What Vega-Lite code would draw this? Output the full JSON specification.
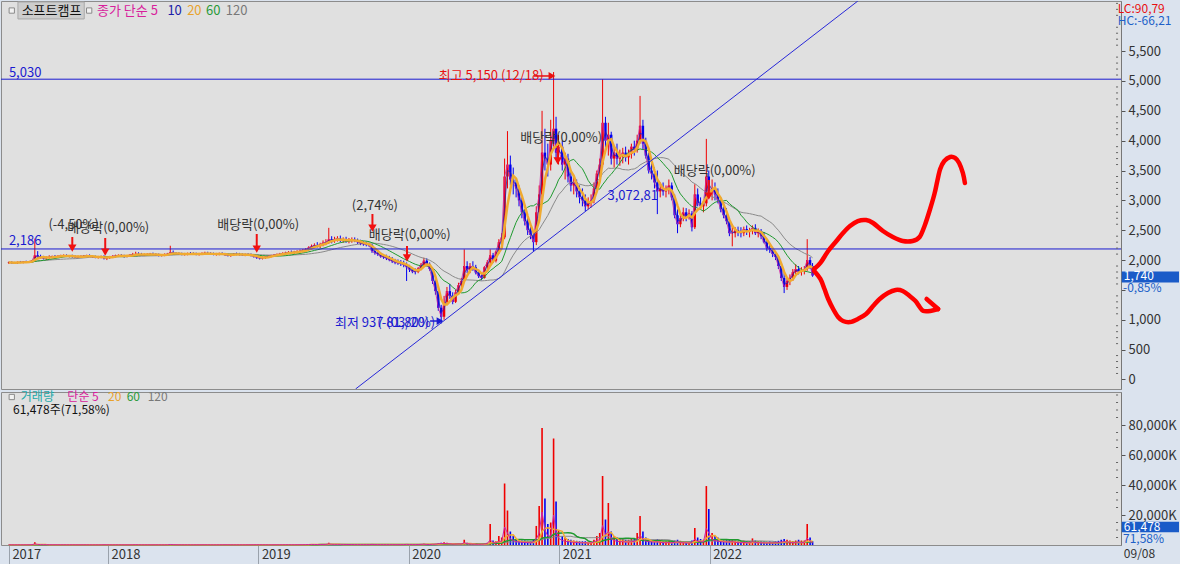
{
"$schema":"https://vega.github.io/schema/vega-lite/v6.json",
"padding":0,
"background":"#dbe3ee",
"spacing":0,
"resolve":{"scale":{"color":"independent"}},
"config":{
 "view":{"stroke":"#8c8c8c","fill":"#e0e0e0"},
 "font":"Liberation Sans Narrow, Noto Sans CJK KR, sans-serif",
 "text":{"font":"Liberation Sans Narrow, Noto Sans CJK KR, sans-serif","fontSize":13,"align":"left","baseline":"middle"},
 "axisY":{"labelOverlap":false}
},
"data":{"values":[
{"d":"2017-05-05","o":1950,"h":1975,"l":1935,"c":1960,"v":150,"a":150},
{"d":"2017-05-12","o":1960,"h":1980,"l":1940,"c":1955,"v":120,"a":120},
{"d":"2017-05-19","o":1955,"h":1970,"l":1940,"c":1950,"v":110,"a":110},
{"d":"2017-05-26","o":1950,"h":1975,"l":1940,"c":1965,"v":130,"a":130},
{"d":"2017-06-02","o":1965,"h":1985,"l":1950,"c":1960,"v":120,"a":120},
{"d":"2017-06-09","o":1960,"h":1980,"l":1945,"c":1970,"v":140,"a":140},
{"d":"2017-06-16","o":1970,"h":1990,"l":1955,"c":1965,"v":120,"a":120},
{"d":"2017-06-23","o":1965,"h":1985,"l":1950,"c":1975,"v":150,"a":150},
{"d":"2017-06-30","o":1975,"h":2000,"l":1960,"c":1990,"v":200,"a":200},
{"d":"2017-07-07","o":1990,"h":2360,"l":1980,"c":2080,"v":1800,"a":700},
{"d":"2017-07-14","o":2080,"h":2150,"l":2030,"c":2060,"v":600,"a":400},
{"d":"2017-07-21","o":2060,"h":2090,"l":2020,"c":2040,"v":300,"a":250},
{"d":"2017-07-28","o":2040,"h":2070,"l":2010,"c":2030,"v":250,"a":200},
{"d":"2017-08-04","o":2030,"h":2060,"l":2000,"c":2045,"v":200,"a":180},
{"d":"2017-08-11","o":2045,"h":2080,"l":2020,"c":2050,"v":200,"a":180},
{"d":"2017-08-18","o":2050,"h":2075,"l":2030,"c":2060,"v":180,"a":160},
{"d":"2017-08-25","o":2060,"h":2085,"l":2035,"c":2055,"v":170,"a":150},
{"d":"2017-09-01","o":2055,"h":2080,"l":2035,"c":2065,"v":180,"a":160},
{"d":"2017-09-08","o":2065,"h":2090,"l":2045,"c":2070,"v":170,"a":150},
{"d":"2017-09-15","o":2070,"h":2095,"l":2050,"c":2075,"v":180,"a":160},
{"d":"2017-09-22","o":2075,"h":2095,"l":2050,"c":2065,"v":160,"a":140},
{"d":"2017-09-29","o":2065,"h":2085,"l":2045,"c":2070,"v":150,"a":130},
{"d":"2017-10-06","o":2070,"h":2090,"l":2040,"c":2060,"v":170,"a":150},
{"d":"2017-10-13","o":2060,"h":2080,"l":2035,"c":2050,"v":150,"a":130},
{"d":"2017-10-20","o":2050,"h":2075,"l":2030,"c":2055,"v":140,"a":120},
{"d":"2017-10-27","o":2055,"h":2080,"l":2035,"c":2060,"v":150,"a":130},
{"d":"2017-11-03","o":2060,"h":2085,"l":2040,"c":2065,"v":160,"a":140},
{"d":"2017-11-10","o":2065,"h":2090,"l":2045,"c":2070,"v":150,"a":130},
{"d":"2017-11-17","o":2070,"h":2095,"l":2050,"c":2060,"v":140,"a":120},
{"d":"2017-11-24","o":2060,"h":2080,"l":2040,"c":2055,"v":130,"a":110},
{"d":"2017-12-01","o":2055,"h":2075,"l":2030,"c":2045,"v":140,"a":120},
{"d":"2017-12-08","o":2045,"h":2070,"l":2025,"c":2050,"v":130,"a":110},
{"d":"2017-12-15","o":2050,"h":2075,"l":2030,"c":2060,"v":150,"a":130},
{"d":"2017-12-22","o":2060,"h":2080,"l":2010,"c":2030,"v":200,"a":170},
{"d":"2017-12-29","o":2030,"h":2055,"l":2000,"c":2040,"v":160,"a":140},
{"d":"2018-01-05","o":2040,"h":2070,"l":2020,"c":2055,"v":150,"a":130},
{"d":"2018-01-12","o":2055,"h":2080,"l":2035,"c":2065,"v":140,"a":120},
{"d":"2018-01-19","o":2065,"h":2090,"l":2045,"c":2070,"v":150,"a":130},
{"d":"2018-01-26","o":2070,"h":2095,"l":2050,"c":2080,"v":160,"a":140},
{"d":"2018-02-02","o":2080,"h":2100,"l":2055,"c":2070,"v":150,"a":130},
{"d":"2018-02-09","o":2070,"h":2090,"l":2040,"c":2060,"v":140,"a":120},
{"d":"2018-02-16","o":2060,"h":2085,"l":2045,"c":2075,"v":130,"a":110},
{"d":"2018-02-23","o":2075,"h":2100,"l":2060,"c":2085,"v":140,"a":120},
{"d":"2018-03-02","o":2085,"h":2120,"l":2065,"c":2090,"v":200,"a":160},
{"d":"2018-03-09","o":2090,"h":2140,"l":2070,"c":2100,"v":250,"a":200},
{"d":"2018-03-16","o":2100,"h":2130,"l":2080,"c":2095,"v":200,"a":160},
{"d":"2018-03-23","o":2095,"h":2120,"l":2070,"c":2085,"v":160,"a":140},
{"d":"2018-03-30","o":2085,"h":2110,"l":2065,"c":2090,"v":150,"a":130},
{"d":"2018-04-06","o":2090,"h":2115,"l":2070,"c":2095,"v":160,"a":140},
{"d":"2018-04-13","o":2095,"h":2120,"l":2075,"c":2100,"v":150,"a":130},
{"d":"2018-04-20","o":2100,"h":2125,"l":2080,"c":2090,"v":140,"a":120},
{"d":"2018-04-27","o":2090,"h":2115,"l":2070,"c":2085,"v":150,"a":130},
{"d":"2018-05-04","o":2085,"h":2110,"l":2060,"c":2080,"v":160,"a":140},
{"d":"2018-05-11","o":2080,"h":2100,"l":2060,"c":2085,"v":150,"a":130},
{"d":"2018-05-18","o":2085,"h":2110,"l":2065,"c":2095,"v":150,"a":130},
{"d":"2018-05-25","o":2095,"h":2120,"l":2075,"c":2100,"v":160,"a":140},
{"d":"2018-06-01","o":2100,"h":2240,"l":2085,"c":2130,"v":600,"a":350},
{"d":"2018-06-08","o":2130,"h":2160,"l":2090,"c":2110,"v":300,"a":220},
{"d":"2018-06-15","o":2110,"h":2135,"l":2090,"c":2105,"v":200,"a":170},
{"d":"2018-06-22","o":2105,"h":2130,"l":2085,"c":2100,"v":180,"a":150},
{"d":"2018-06-29","o":2100,"h":2125,"l":2080,"c":2095,"v":170,"a":150},
{"d":"2018-07-06","o":2095,"h":2120,"l":2075,"c":2100,"v":160,"a":140},
{"d":"2018-07-13","o":2100,"h":2125,"l":2080,"c":2110,"v":170,"a":150},
{"d":"2018-07-20","o":2110,"h":2135,"l":2090,"c":2105,"v":160,"a":140},
{"d":"2018-07-27","o":2105,"h":2130,"l":2085,"c":2100,"v":150,"a":130},
{"d":"2018-08-03","o":2100,"h":2125,"l":2080,"c":2095,"v":160,"a":140},
{"d":"2018-08-10","o":2095,"h":2120,"l":2075,"c":2105,"v":150,"a":130},
{"d":"2018-08-17","o":2105,"h":2130,"l":2085,"c":2110,"v":170,"a":150},
{"d":"2018-08-24","o":2110,"h":2140,"l":2090,"c":2115,"v":180,"a":160},
{"d":"2018-08-31","o":2115,"h":2140,"l":2095,"c":2105,"v":170,"a":150},
{"d":"2018-09-07","o":2105,"h":2130,"l":2085,"c":2100,"v":160,"a":140},
{"d":"2018-09-14","o":2100,"h":2125,"l":2080,"c":2095,"v":150,"a":130},
{"d":"2018-09-21","o":2095,"h":2120,"l":2075,"c":2100,"v":150,"a":130},
{"d":"2018-09-28","o":2100,"h":2125,"l":2080,"c":2105,"v":160,"a":140},
{"d":"2018-10-05","o":2105,"h":2130,"l":2085,"c":2100,"v":170,"a":150},
{"d":"2018-10-12","o":2100,"h":2120,"l":2070,"c":2085,"v":180,"a":160},
{"d":"2018-10-19","o":2085,"h":2110,"l":2060,"c":2080,"v":170,"a":150},
{"d":"2018-10-26","o":2080,"h":2105,"l":2055,"c":2090,"v":160,"a":140},
{"d":"2018-11-02","o":2090,"h":2115,"l":2070,"c":2100,"v":150,"a":130},
{"d":"2018-11-09","o":2100,"h":2125,"l":2080,"c":2095,"v":150,"a":130},
{"d":"2018-11-16","o":2095,"h":2120,"l":2075,"c":2090,"v":140,"a":120},
{"d":"2018-11-23","o":2090,"h":2115,"l":2070,"c":2085,"v":150,"a":130},
{"d":"2018-11-30","o":2085,"h":2110,"l":2065,"c":2090,"v":150,"a":130},
{"d":"2018-12-07","o":2090,"h":2115,"l":2070,"c":2085,"v":160,"a":140},
{"d":"2018-12-14","o":2085,"h":2110,"l":2060,"c":2075,"v":170,"a":150},
{"d":"2018-12-21","o":2075,"h":2100,"l":2040,"c":2060,"v":200,"a":170},
{"d":"2018-12-28","o":2060,"h":2085,"l":2020,"c":2045,"v":220,"a":180},
{"d":"2019-01-04","o":2045,"h":2070,"l":2010,"c":2030,"v":200,"a":170},
{"d":"2019-01-11","o":2030,"h":2060,"l":2010,"c":2040,"v":180,"a":160},
{"d":"2019-01-18","o":2040,"h":2070,"l":2020,"c":2055,"v":170,"a":150},
{"d":"2019-01-25","o":2055,"h":2080,"l":2035,"c":2065,"v":160,"a":140},
{"d":"2019-02-01","o":2065,"h":2090,"l":2045,"c":2075,"v":160,"a":140},
{"d":"2019-02-08","o":2075,"h":2100,"l":2055,"c":2085,"v":170,"a":150},
{"d":"2019-02-15","o":2085,"h":2110,"l":2065,"c":2095,"v":170,"a":150},
{"d":"2019-02-22","o":2095,"h":2120,"l":2075,"c":2100,"v":180,"a":160},
{"d":"2019-03-01","o":2100,"h":2130,"l":2080,"c":2110,"v":200,"a":170},
{"d":"2019-03-08","o":2110,"h":2140,"l":2090,"c":2120,"v":220,"a":190},
{"d":"2019-03-15","o":2120,"h":2150,"l":2100,"c":2130,"v":230,"a":200},
{"d":"2019-03-22","o":2130,"h":2160,"l":2105,"c":2125,"v":210,"a":180},
{"d":"2019-03-29","o":2125,"h":2155,"l":2100,"c":2135,"v":200,"a":170},
{"d":"2019-04-05","o":2135,"h":2165,"l":2110,"c":2140,"v":220,"a":190},
{"d":"2019-04-12","o":2140,"h":2175,"l":2115,"c":2150,"v":240,"a":200},
{"d":"2019-04-19","o":2150,"h":2185,"l":2125,"c":2160,"v":260,"a":220},
{"d":"2019-04-26","o":2160,"h":2200,"l":2135,"c":2175,"v":300,"a":250},
{"d":"2019-05-03","o":2175,"h":2230,"l":2150,"c":2210,"v":400,"a":320},
{"d":"2019-05-10","o":2210,"h":2260,"l":2180,"c":2230,"v":450,"a":350},
{"d":"2019-05-17","o":2230,"h":2280,"l":2200,"c":2250,"v":420,"a":340},
{"d":"2019-05-24","o":2250,"h":2300,"l":2210,"c":2240,"v":380,"a":300},
{"d":"2019-05-31","o":2240,"h":2290,"l":2200,"c":2260,"v":400,"a":320},
{"d":"2019-06-07","o":2260,"h":2330,"l":2230,"c":2290,"v":500,"a":380},
{"d":"2019-06-14","o":2290,"h":2350,"l":2250,"c":2300,"v":520,"a":400},
{"d":"2019-06-21","o":2300,"h":2540,"l":2270,"c":2350,"v":1500,"a":700},
{"d":"2019-06-28","o":2350,"h":2400,"l":2280,"c":2320,"v":700,"a":450},
{"d":"2019-07-05","o":2320,"h":2390,"l":2290,"c":2350,"v":600,"a":420},
{"d":"2019-07-12","o":2350,"h":2400,"l":2310,"c":2360,"v":600,"a":420},
{"d":"2019-07-19","o":2360,"h":2410,"l":2300,"c":2330,"v":550,"a":400},
{"d":"2019-07-26","o":2330,"h":2380,"l":2290,"c":2340,"v":500,"a":380},
{"d":"2019-08-02","o":2340,"h":2390,"l":2290,"c":2320,"v":450,"a":350},
{"d":"2019-08-09","o":2320,"h":2370,"l":2280,"c":2330,"v":420,"a":330},
{"d":"2019-08-16","o":2330,"h":2380,"l":2290,"c":2340,"v":400,"a":320},
{"d":"2019-08-23","o":2340,"h":2380,"l":2300,"c":2320,"v":380,"a":300},
{"d":"2019-08-30","o":2320,"h":2360,"l":2270,"c":2300,"v":360,"a":290},
{"d":"2019-09-06","o":2300,"h":2340,"l":2250,"c":2280,"v":350,"a":280},
{"d":"2019-09-13","o":2280,"h":2320,"l":2240,"c":2270,"v":330,"a":270},
{"d":"2019-09-20","o":2270,"h":2310,"l":2230,"c":2260,"v":320,"a":260},
{"d":"2019-09-27","o":2260,"h":2290,"l":2220,"c":2250,"v":300,"a":250},
{"d":"2019-10-04","o":2250,"h":2270,"l":2120,"c":2150,"v":600,"a":400},
{"d":"2019-10-11","o":2150,"h":2180,"l":2090,"c":2120,"v":400,"a":300},
{"d":"2019-10-18","o":2120,"h":2160,"l":2070,"c":2100,"v":350,"a":280},
{"d":"2019-10-25","o":2100,"h":2130,"l":2040,"c":2060,"v":330,"a":270},
{"d":"2019-11-01","o":2060,"h":2100,"l":2020,"c":2050,"v":320,"a":260},
{"d":"2019-11-08","o":2050,"h":2090,"l":2000,"c":2030,"v":300,"a":250},
{"d":"2019-11-15","o":2030,"h":2070,"l":1980,"c":2000,"v":300,"a":250},
{"d":"2019-11-22","o":2000,"h":2050,"l":1950,"c":1980,"v":320,"a":260},
{"d":"2019-11-29","o":1980,"h":2020,"l":1930,"c":1960,"v":310,"a":250},
{"d":"2019-12-06","o":1960,"h":2010,"l":1920,"c":1950,"v":300,"a":250},
{"d":"2019-12-13","o":1950,"h":2000,"l":1900,"c":1940,"v":320,"a":260},
{"d":"2019-12-20","o":1940,"h":1990,"l":1880,"c":1920,"v":350,"a":280},
{"d":"2019-12-27","o":1920,"h":1960,"l":1650,"c":1880,"v":600,"a":400},
{"d":"2020-01-03","o":1880,"h":1920,"l":1800,"c":1840,"v":400,"a":320},
{"d":"2020-01-10","o":1840,"h":1880,"l":1780,"c":1810,"v":350,"a":280},
{"d":"2020-01-17","o":1810,"h":1860,"l":1760,"c":1800,"v":330,"a":270},
{"d":"2020-01-24","o":1800,"h":1880,"l":1780,"c":1860,"v":400,"a":320},
{"d":"2020-01-31","o":1860,"h":1950,"l":1830,"c":1920,"v":600,"a":420},
{"d":"2020-02-07","o":1920,"h":2040,"l":1890,"c":1990,"v":900,"a":550},
{"d":"2020-02-14","o":1990,"h":2030,"l":1900,"c":1930,"v":500,"a":380},
{"d":"2020-02-21","o":1930,"h":1960,"l":1820,"c":1850,"v":420,"a":330},
{"d":"2020-02-28","o":1850,"h":1880,"l":1600,"c":1650,"v":700,"a":500},
{"d":"2020-03-06","o":1650,"h":1700,"l":1420,"c":1480,"v":800,"a":550},
{"d":"2020-03-13","o":1480,"h":1520,"l":1150,"c":1200,"v":1200,"a":800},
{"d":"2020-03-20","o":1200,"h":1250,"l":937,"c":1050,"v":1500,"a":900},
{"d":"2020-03-27","o":1050,"h":1400,"l":1000,"c":1300,"v":1800,"a":1000},
{"d":"2020-04-03","o":1300,"h":1550,"l":1250,"c":1480,"v":1500,"a":900},
{"d":"2020-04-10","o":1480,"h":1600,"l":1350,"c":1400,"v":1200,"a":800},
{"d":"2020-04-17","o":1400,"h":1460,"l":1260,"c":1300,"v":900,"a":600},
{"d":"2020-04-24","o":1300,"h":1500,"l":1280,"c":1460,"v":900,"a":600},
{"d":"2020-05-01","o":1460,"h":1620,"l":1420,"c":1580,"v":1100,"a":700},
{"d":"2020-05-08","o":1580,"h":1700,"l":1520,"c":1650,"v":1000,"a":650},
{"d":"2020-05-15","o":1650,"h":2180,"l":1620,"c":1900,"v":3500,"a":1500},
{"d":"2020-05-22","o":1900,"h":1980,"l":1780,"c":1830,"v":1500,"a":900},
{"d":"2020-05-29","o":1830,"h":1950,"l":1780,"c":1900,"v":1000,"a":650},
{"d":"2020-06-05","o":1900,"h":1980,"l":1820,"c":1880,"v":900,"a":600},
{"d":"2020-06-12","o":1880,"h":1920,"l":1760,"c":1790,"v":800,"a":550},
{"d":"2020-06-19","o":1790,"h":1820,"l":1700,"c":1730,"v":700,"a":500},
{"d":"2020-06-26","o":1730,"h":1760,"l":1660,"c":1700,"v":700,"a":500},
{"d":"2020-07-03","o":1700,"h":1900,"l":1690,"c":1880,"v":1000,"a":650},
{"d":"2020-07-10","o":1880,"h":2000,"l":1840,"c":1960,"v":1500,"a":900},
{"d":"2020-07-17","o":1960,"h":2180,"l":1920,"c":2080,"v":14000,"a":3500},
{"d":"2020-07-24","o":2080,"h":2120,"l":1950,"c":1990,"v":3000,"a":1500},
{"d":"2020-07-31","o":1990,"h":2160,"l":1960,"c":2140,"v":2500,"a":1400},
{"d":"2020-08-07","o":2140,"h":2350,"l":2100,"c":2300,"v":6000,"a":2500},
{"d":"2020-08-14","o":2300,"h":2450,"l":2200,"c":2380,"v":5000,"a":2500},
{"d":"2020-08-21","o":2380,"h":3700,"l":2350,"c":3400,"v":41000,"a":12000},
{"d":"2020-08-28","o":3400,"h":4160,"l":3200,"c":3600,"v":23000,"a":8000},
{"d":"2020-09-04","o":3600,"h":3750,"l":3250,"c":3350,"v":9000,"a":4000},
{"d":"2020-09-11","o":3350,"h":3550,"l":3100,"c":3300,"v":6000,"a":3000},
{"d":"2020-09-18","o":3300,"h":3350,"l":3050,"c":3200,"v":4000,"a":2200},
{"d":"2020-09-25","o":3200,"h":3250,"l":2900,"c":3000,"v":3500,"a":2000},
{"d":"2020-10-02","o":3000,"h":3050,"l":2700,"c":2800,"v":3000,"a":1800},
{"d":"2020-10-09","o":2800,"h":2850,"l":2580,"c":2650,"v":3000,"a":1700},
{"d":"2020-10-16","o":2650,"h":2720,"l":2420,"c":2500,"v":2800,"a":1600},
{"d":"2020-10-23","o":2500,"h":2560,"l":2350,"c":2420,"v":2500,"a":1500},
{"d":"2020-10-30","o":2420,"h":2500,"l":2150,"c":2300,"v":4000,"a":2000},
{"d":"2020-11-06","o":2300,"h":2900,"l":2250,"c":2800,"v":12700,"a":4000},
{"d":"2020-11-13","o":2800,"h":3250,"l":2700,"c":3100,"v":26000,"a":8000},
{"d":"2020-11-20","o":3100,"h":4500,"l":3000,"c":3800,"v":78000,"a":22000},
{"d":"2020-11-27","o":3800,"h":4200,"l":3500,"c":3700,"v":31000,"a":10000},
{"d":"2020-12-04","o":3700,"h":3950,"l":3400,"c":3600,"v":14000,"a":6000},
{"d":"2020-12-11","o":3600,"h":4350,"l":3500,"c":4000,"v":15000,"a":6000},
{"d":"2020-12-18","o":4000,"h":5150,"l":3900,"c":4200,"v":71000,"a":20000},
{"d":"2020-12-24","o":4200,"h":4400,"l":3700,"c":3800,"v":29000,"a":9000},
{"d":"2020-12-30","o":3800,"h":4100,"l":3600,"c":3900,"v":10000,"a":4500},
{"d":"2021-01-08","o":3900,"h":4000,"l":3500,"c":3600,"v":6000,"a":3000},
{"d":"2021-01-15","o":3600,"h":3800,"l":3350,"c":3700,"v":5000,"a":2500},
{"d":"2021-01-22","o":3700,"h":3780,"l":3300,"c":3400,"v":4000,"a":2200},
{"d":"2021-01-29","o":3400,"h":3500,"l":3150,"c":3250,"v":3500,"a":2000},
{"d":"2021-02-05","o":3250,"h":3400,"l":3100,"c":3300,"v":3000,"a":1800},
{"d":"2021-02-12","o":3300,"h":3350,"l":3050,"c":3150,"v":2800,"a":1700},
{"d":"2021-02-19","o":3150,"h":3250,"l":2950,"c":3050,"v":2500,"a":1500},
{"d":"2021-02-26","o":3050,"h":3200,"l":2900,"c":3000,"v":2500,"a":1500},
{"d":"2021-03-05","o":3000,"h":3100,"l":2820,"c":2900,"v":2500,"a":1500},
{"d":"2021-03-12","o":2900,"h":3050,"l":2850,"c":2950,"v":2200,"a":1300},
{"d":"2021-03-19","o":2950,"h":3100,"l":2880,"c":3000,"v":2300,"a":1400},
{"d":"2021-03-26","o":3000,"h":3300,"l":2950,"c":3200,"v":3500,"a":2000},
{"d":"2021-04-02","o":3200,"h":3500,"l":3150,"c":3450,"v":6000,"a":3000},
{"d":"2021-04-09","o":3450,"h":3700,"l":3350,"c":3600,"v":8000,"a":3500},
{"d":"2021-04-16","o":3600,"h":5030,"l":3550,"c":4300,"v":46000,"a":13000},
{"d":"2021-04-23","o":4300,"h":4400,"l":3800,"c":4000,"v":17000,"a":7000},
{"d":"2021-04-30","o":4000,"h":4300,"l":3750,"c":4100,"v":28000,"a":9000},
{"d":"2021-05-07","o":4100,"h":4150,"l":3600,"c":3700,"v":9000,"a":4000},
{"d":"2021-05-14","o":3700,"h":3900,"l":3550,"c":3800,"v":6000,"a":3000},
{"d":"2021-05-21","o":3800,"h":3950,"l":3600,"c":3700,"v":5000,"a":2500},
{"d":"2021-05-28","o":3700,"h":3850,"l":3580,"c":3750,"v":4000,"a":2200},
{"d":"2021-06-04","o":3750,"h":3880,"l":3620,"c":3800,"v":4000,"a":2200},
{"d":"2021-06-11","o":3800,"h":3900,"l":3650,"c":3720,"v":3500,"a":2000},
{"d":"2021-06-18","o":3720,"h":3850,"l":3600,"c":3780,"v":3500,"a":2000},
{"d":"2021-06-25","o":3780,"h":3950,"l":3700,"c":3900,"v":4000,"a":2200},
{"d":"2021-07-02","o":3900,"h":4000,"l":3750,"c":3850,"v":4500,"a":2400},
{"d":"2021-07-09","o":3850,"h":4100,"l":3800,"c":4000,"v":8000,"a":3500},
{"d":"2021-07-16","o":4000,"h":4750,"l":3950,"c":4250,"v":19300,"a":6500},
{"d":"2021-07-23","o":4250,"h":4350,"l":3850,"c":3950,"v":9000,"a":4000},
{"d":"2021-07-30","o":3950,"h":4050,"l":3700,"c":3750,"v":5000,"a":2500},
{"d":"2021-08-06","o":3750,"h":3800,"l":3450,"c":3500,"v":4000,"a":2200},
{"d":"2021-08-13","o":3500,"h":3650,"l":3350,"c":3450,"v":3500,"a":2000},
{"d":"2021-08-20","o":3450,"h":3550,"l":3200,"c":3300,"v":3500,"a":2000},
{"d":"2021-08-27","o":3300,"h":3500,"l":2770,"c":3150,"v":4000,"a":2200},
{"d":"2021-09-03","o":3150,"h":3300,"l":3050,"c":3200,"v":3000,"a":1800},
{"d":"2021-09-10","o":3200,"h":3300,"l":3080,"c":3150,"v":2500,"a":1500},
{"d":"2021-09-17","o":3150,"h":3250,"l":3050,"c":3200,"v":2500,"a":1500},
{"d":"2021-09-24","o":3200,"h":3350,"l":3100,"c":3250,"v":2800,"a":1600},
{"d":"2021-10-01","o":3250,"h":3300,"l":3000,"c":3050,"v":2500,"a":1500},
{"d":"2021-10-08","o":3050,"h":3100,"l":2700,"c":2750,"v":3000,"a":1800},
{"d":"2021-10-15","o":2750,"h":2850,"l":2450,"c":2600,"v":3500,"a":2000},
{"d":"2021-10-22","o":2600,"h":2800,"l":2550,"c":2700,"v":2800,"a":1600},
{"d":"2021-10-29","o":2700,"h":2880,"l":2650,"c":2800,"v":2500,"a":1500},
{"d":"2021-11-05","o":2800,"h":2870,"l":2650,"c":2720,"v":2300,"a":1400},
{"d":"2021-11-12","o":2720,"h":2850,"l":2680,"c":2780,"v":2200,"a":1300},
{"d":"2021-11-19","o":2780,"h":2820,"l":2480,"c":2550,"v":3000,"a":1800},
{"d":"2021-11-26","o":2550,"h":3270,"l":2520,"c":3100,"v":11300,"a":4000},
{"d":"2021-12-03","o":3100,"h":3200,"l":2900,"c":2950,"v":5000,"a":2500},
{"d":"2021-12-10","o":2950,"h":3050,"l":2850,"c":2900,"v":4000,"a":2200},
{"d":"2021-12-17","o":2900,"h":3000,"l":2800,"c":2950,"v":3500,"a":2000},
{"d":"2021-12-24","o":2950,"h":4030,"l":2900,"c":3400,"v":39300,"a":11000},
{"d":"2021-12-30","o":3400,"h":3500,"l":3050,"c":3150,"v":24000,"a":8000},
{"d":"2022-01-07","o":3150,"h":3350,"l":3000,"c":3200,"v":8000,"a":3500},
{"d":"2022-01-14","o":3200,"h":3300,"l":3000,"c":3100,"v":6000,"a":3000},
{"d":"2022-01-21","o":3100,"h":3200,"l":2950,"c":3000,"v":5000,"a":2500},
{"d":"2022-01-28","o":3000,"h":3050,"l":2800,"c":2850,"v":4000,"a":2200},
{"d":"2022-02-04","o":2850,"h":2950,"l":2700,"c":2750,"v":3500,"a":2000},
{"d":"2022-02-11","o":2750,"h":2870,"l":2600,"c":2650,"v":3500,"a":2000},
{"d":"2022-02-18","o":2650,"h":2700,"l":2400,"c":2450,"v":3500,"a":2000},
{"d":"2022-02-25","o":2450,"h":2600,"l":2230,"c":2450,"v":4000,"a":2200},
{"d":"2022-03-04","o":2450,"h":2550,"l":2380,"c":2500,"v":3000,"a":1800},
{"d":"2022-03-11","o":2500,"h":2560,"l":2400,"c":2480,"v":2500,"a":1500},
{"d":"2022-03-18","o":2480,"h":2550,"l":2380,"c":2450,"v":2500,"a":1500},
{"d":"2022-03-25","o":2450,"h":2560,"l":2400,"c":2520,"v":3000,"a":1700},
{"d":"2022-04-01","o":2520,"h":2580,"l":2420,"c":2470,"v":2500,"a":1500},
{"d":"2022-04-08","o":2470,"h":2540,"l":2380,"c":2500,"v":2500,"a":1500},
{"d":"2022-04-15","o":2500,"h":2580,"l":2430,"c":2540,"v":4400,"a":2200},
{"d":"2022-04-22","o":2540,"h":2600,"l":2420,"c":2450,"v":3000,"a":1700},
{"d":"2022-04-29","o":2450,"h":2530,"l":2380,"c":2480,"v":2500,"a":1500},
{"d":"2022-05-06","o":2480,"h":2520,"l":2350,"c":2400,"v":2500,"a":1500},
{"d":"2022-05-13","o":2400,"h":2470,"l":2280,"c":2300,"v":2300,"a":1400},
{"d":"2022-05-20","o":2300,"h":2350,"l":2150,"c":2200,"v":2200,"a":1300},
{"d":"2022-05-27","o":2200,"h":2280,"l":2120,"c":2180,"v":2500,"a":1500},
{"d":"2022-06-03","o":2180,"h":2220,"l":2050,"c":2100,"v":2200,"a":1300},
{"d":"2022-06-10","o":2100,"h":2150,"l":2000,"c":2050,"v":2500,"a":1500},
{"d":"2022-06-17","o":2050,"h":2080,"l":1850,"c":1900,"v":2800,"a":1600},
{"d":"2022-06-24","o":1900,"h":1950,"l":1650,"c":1700,"v":3500,"a":2000},
{"d":"2022-07-01","o":1700,"h":1780,"l":1447,"c":1550,"v":4000,"a":2200},
{"d":"2022-07-08","o":1550,"h":1700,"l":1500,"c":1650,"v":3500,"a":2000},
{"d":"2022-07-15","o":1650,"h":1760,"l":1580,"c":1700,"v":3000,"a":1800},
{"d":"2022-07-22","o":1700,"h":1850,"l":1650,"c":1800,"v":2500,"a":1500},
{"d":"2022-07-29","o":1800,"h":1930,"l":1750,"c":1850,"v":3000,"a":1700},
{"d":"2022-08-05","o":1850,"h":1900,"l":1760,"c":1800,"v":3500,"a":2000},
{"d":"2022-08-12","o":1800,"h":1880,"l":1740,"c":1820,"v":3000,"a":1700},
{"d":"2022-08-19","o":1820,"h":1900,"l":1760,"c":1850,"v":3000,"a":1700},
{"d":"2022-08-26","o":1850,"h":2350,"l":1820,"c":2000,"v":14000,"a":4500},
{"d":"2022-09-02","o":2000,"h":2050,"l":1850,"c":1900,"v":5000,"a":2500},
{"d":"2022-09-08","o":1900,"h":1950,"l":1720,"c":1740,"v":2500,"a":1500}
]},
"transform":[
 {"window":[{"op":"mean","field":"c","as":"ma10"}],"frame":[-1,0],"sort":[{"field":"d"}]},
 {"window":[{"op":"mean","field":"c","as":"ma20"}],"frame":[-3,0],"sort":[{"field":"d"}]},
 {"window":[{"op":"mean","field":"c","as":"ma60"}],"frame":[-11,0],"sort":[{"field":"d"}]},
 {"window":[{"op":"mean","field":"c","as":"ma120"}],"frame":[-23,0],"sort":[{"field":"d"}]},
 {"window":[{"op":"mean","field":"a","as":"vma20"}],"frame":[-3,0],"sort":[{"field":"d"}]},
 {"window":[{"op":"mean","field":"a","as":"vma60"}],"frame":[-11,0],"sort":[{"field":"d"}]},
 {"window":[{"op":"mean","field":"a","as":"vma120"}],"frame":[-23,0],"sort":[{"field":"d"}]}
],
"vconcat":[
{
 "width":1120,"height":388,
 "resolve":{"scale":{"color":"independent"}},
 "layer":[
  {"mark":{"type":"rule","strokeWidth":1},
   "encoding":{"x":{"field":"d","type":"temporal","scale":{"type":"utc","domain":[{"year":2017,"month":4,"date":28,"utc":true},{"year":2024,"month":9,"date":14,"utc":true}]},"axis":null},
    "y":{"field":"l","type":"quantitative","scale":{"domain":[-160,6340],"nice":false,"zero":false},
     "axis":{"orient":"right","title":null,"grid":false,"values":[0,500,1000,1500,2000,2500,3000,3500,4000,4500,5000,5500],"tickCount":13,"labelExpr":"(datum.value > 5600 || datum.value == 1500) ? '' : format(datum.value, ',')","labelOverlap":false,"labelFlush":false,"tickSize":4,"tickColor":"#555555","domainColor":"#777777","labelPadding":3,"labelFontSize":13,"labelColor":"#333333","labelFont":"Liberation Sans Narrow, Noto Sans CJK KR, sans-serif"}},
    "y2":{"field":"h"},
    "color":{"condition":{"test":"datum.c >= datum.o","value":"#f00000"},"value":"#0000f0"}}},
  {"data":{"values":[{"d":"2017-05-27","d2":"2017-11-04","p":6323,"p2":6039}]},
   "mark":{"type":"rect","fill":"#cdcdcd","stroke":"#a8a8a8","strokeWidth":1},
   "encoding":{"x":{"field":"d","type":"temporal","scale":{"type":"utc","domain":[{"year":2017,"month":4,"date":28,"utc":true},{"year":2024,"month":9,"date":14,"utc":true}]},"axis":null},"x2":{"field":"d2"},
    "y":{"field":"p","type":"quantitative","scale":{"domain":[-160,6340],"nice":false,"zero":false},"axis":{"title":null}},"y2":{"field":"p2"}}},
  {"mark":{"type":"bar","size":2.4},
   "encoding":{"x":{"field":"d","type":"temporal","scale":{"type":"utc","domain":[{"year":2017,"month":4,"date":28,"utc":true},{"year":2024,"month":9,"date":14,"utc":true}]},"axis":null},
    "y":{"field":"o","type":"quantitative","scale":{"domain":[-160,6340],"nice":false,"zero":false},"axis":{"title":null}},"y2":{"field":"c"},
    "color":{"condition":{"test":"datum.c >= datum.o","value":"#f00000"},"value":"#0000f0"}}},
  {"mark":{"type":"line","color":"#8a8a8a","strokeWidth":1},
   "encoding":{"x":{"field":"d","type":"temporal","scale":{"type":"utc","domain":[{"year":2017,"month":4,"date":28,"utc":true},{"year":2024,"month":9,"date":14,"utc":true}]},"axis":null},
    "y":{"field":"ma120","type":"quantitative","scale":{"domain":[-160,6340],"nice":false,"zero":false},"axis":{"title":null}}}},
  {"mark":{"type":"line","color":"#1f9a2f","strokeWidth":1},
   "encoding":{"x":{"field":"d","type":"temporal","scale":{"type":"utc","domain":[{"year":2017,"month":4,"date":28,"utc":true},{"year":2024,"month":9,"date":14,"utc":true}]},"axis":null},
    "y":{"field":"ma60","type":"quantitative","scale":{"domain":[-160,6340],"nice":false,"zero":false},"axis":{"title":null}}}},
  {"mark":{"type":"line","color":"#d020a0","strokeWidth":1,"opacity":0.8},
   "encoding":{"x":{"field":"d","type":"temporal","scale":{"type":"utc","domain":[{"year":2017,"month":4,"date":28,"utc":true},{"year":2024,"month":9,"date":14,"utc":true}]},"axis":null},
    "y":{"field":"c","type":"quantitative","scale":{"domain":[-160,6340],"nice":false,"zero":false},"axis":{"title":null}}}},
  {"mark":{"type":"line","color":"#2020b0","strokeWidth":1,"opacity":0.8},
   "encoding":{"x":{"field":"d","type":"temporal","scale":{"type":"utc","domain":[{"year":2017,"month":4,"date":28,"utc":true},{"year":2024,"month":9,"date":14,"utc":true}]},"axis":null},
    "y":{"field":"ma10","type":"quantitative","scale":{"domain":[-160,6340],"nice":false,"zero":false},"axis":{"title":null}}}},
  {"mark":{"type":"line","color":"#f0aa30","strokeWidth":2.5},
   "encoding":{"x":{"field":"d","type":"temporal","scale":{"type":"utc","domain":[{"year":2017,"month":4,"date":28,"utc":true},{"year":2024,"month":9,"date":14,"utc":true}]},"axis":null},
    "y":{"field":"ma20","type":"quantitative","scale":{"domain":[-160,6340],"nice":false,"zero":false},"axis":{"title":null}}}},
  {"data":{"values":[{"p":5030},{"p":2186}]},
   "mark":{"type":"rule","color":"#1a1ad0","strokeWidth":1},
   "encoding":{"y":{"field":"p","type":"quantitative","scale":{"domain":[-160,6340],"nice":false,"zero":false},"axis":{"title":null}}}},
  {"data":{"values":[{"d":"2019-08-25","p":-160},{"d":"2022-12-27","p":6340}]},
   "mark":{"type":"line","color":"#2828d8","strokeWidth":1,"clip":true},
   "encoding":{"x":{"field":"d","type":"temporal","scale":{"type":"utc","domain":[{"year":2017,"month":4,"date":28,"utc":true},{"year":2024,"month":9,"date":14,"utc":true}]},"axis":null},
    "y":{"field":"p","type":"quantitative","scale":{"domain":[-160,6340],"nice":false,"zero":false},"axis":{"title":null}}}},
  {"data":{"values":[
    {"d":"2017-10-06","p1":2386,"p2":2202},
    {"d":"2017-12-25","p1":2370,"p2":2135},
    {"d":"2018-12-28","p1":2437,"p2":2185},
    {"d":"2019-10-05","p1":2772,"p2":2537},
    {"d":"2019-12-28","p1":2236,"p2":2035},
    {"d":"2020-12-28","p1":3911,"p2":3660},
    {"d":"2021-12-30","p1":3341,"p2":3073}]},
   "mark":{"type":"rule","color":"#f01010","strokeWidth":2},
   "encoding":{"x":{"field":"d","type":"temporal","scale":{"type":"utc","domain":[{"year":2017,"month":4,"date":28,"utc":true},{"year":2024,"month":9,"date":14,"utc":true}]},"axis":null},
    "y":{"field":"p1","type":"quantitative","scale":{"domain":[-160,6340],"nice":false,"zero":false},"axis":{"title":null}},"y2":{"field":"p2"}}},
  {"data":{"values":[
    {"d":"2017-10-06","p2":2202},
    {"d":"2017-12-25","p2":2135},
    {"d":"2018-12-28","p2":2185},
    {"d":"2019-10-05","p2":2537},
    {"d":"2019-12-28","p2":2035},
    {"d":"2020-12-28","p2":3660},
    {"d":"2021-12-30","p2":3073}]},
   "mark":{"type":"point","shape":"triangle-down","filled":true,"color":"#f01010","size":70,"opacity":1},
   "encoding":{"x":{"field":"d","type":"temporal","scale":{"type":"utc","domain":[{"year":2017,"month":4,"date":28,"utc":true},{"year":2024,"month":9,"date":14,"utc":true}]},"axis":null},
    "y":{"field":"p2","type":"quantitative","scale":{"domain":[-160,6340],"nice":false,"zero":false},"axis":{"title":null}}}},
  {"data":{"values":[
    {"d":"2020-10-31","d2":"2020-12-14","p":5084,"k":"high"},
    {"d":"2020-02-22","d2":"2020-03-17","p":979,"k":"low"}]},
   "mark":{"type":"rule","strokeWidth":1.5},
   "encoding":{"x":{"field":"d","type":"temporal","scale":{"type":"utc","domain":[{"year":2017,"month":4,"date":28,"utc":true},{"year":2024,"month":9,"date":14,"utc":true}]},"axis":null},"x2":{"field":"d2"},
    "y":{"field":"p","type":"quantitative","scale":{"domain":[-160,6340],"nice":false,"zero":false},"axis":{"title":null}},
    "color":{"field":"k","type":"nominal","scale":{"domain":["high","low"],"range":["#e81010","#1a1ad0"]},"legend":null}}},
  {"data":{"values":[
    {"d2":"2020-12-14","p":5084,"k":"high"},
    {"d2":"2020-03-17","p":979,"k":"low"}]},
   "mark":{"type":"point","shape":"triangle-right","filled":true,"size":60,"opacity":1},
   "encoding":{"x":{"field":"d2","type":"temporal","scale":{"type":"utc","domain":[{"year":2017,"month":4,"date":28,"utc":true},{"year":2024,"month":9,"date":14,"utc":true}]},"axis":null},
    "y":{"field":"p","type":"quantitative","scale":{"domain":[-160,6340],"nice":false,"zero":false},"axis":{"title":null}},
    "color":{"field":"k","type":"nominal","scale":{"domain":["high","low"],"range":["#e81010","#1a1ad0"]},"legend":null}}},
  {"data":{"values":[
    {"g":"up","i":1,"d":"2022-09-12","p":1850},
    {"g":"up","i":2,"d":"2022-09-27","p":1951},
    {"g":"up","i":3,"d":"2022-10-16","p":2152},
    {"g":"up","i":4,"d":"2022-11-05","p":2319},
    {"g":"up","i":5,"d":"2022-11-21","p":2453},
    {"g":"up","i":6,"d":"2022-12-08","p":2571},
    {"g":"up","i":7,"d":"2022-12-27","p":2654},
    {"g":"up","i":8,"d":"2023-01-16","p":2671},
    {"g":"up","i":9,"d":"2023-02-02","p":2621},
    {"g":"up","i":10,"d":"2023-02-26","p":2487},
    {"g":"up","i":11,"d":"2023-03-22","p":2386},
    {"g":"up","i":12,"d":"2023-04-15","p":2319},
    {"g":"up","i":13,"d":"2023-05-09","p":2319},
    {"g":"up","i":14,"d":"2023-05-26","p":2386},
    {"g":"up","i":15,"d":"2023-06-07","p":2571},
    {"g":"up","i":16,"d":"2023-06-19","p":2822},
    {"g":"up","i":17,"d":"2023-07-01","p":3107},
    {"g":"up","i":18,"d":"2023-07-08","p":3325},
    {"g":"up","i":19,"d":"2023-07-15","p":3526},
    {"g":"up","i":20,"d":"2023-07-25","p":3660},
    {"g":"up","i":21,"d":"2023-08-08","p":3727},
    {"g":"up","i":22,"d":"2023-08-20","p":3710},
    {"g":"up","i":23,"d":"2023-08-30","p":3626},
    {"g":"up","i":24,"d":"2023-09-08","p":3459},
    {"g":"up","i":25,"d":"2023-09-13","p":3291},
    {"g":"down","i":1,"d":"2022-09-12","p":1817},
    {"g":"down","i":2,"d":"2022-09-27","p":1683},
    {"g":"down","i":3,"d":"2022-10-07","p":1515},
    {"g":"down","i":4,"d":"2022-10-16","p":1348},
    {"g":"down","i":5,"d":"2022-10-28","p":1180},
    {"g":"down","i":6,"d":"2022-11-09","p":1046},
    {"g":"down","i":7,"d":"2022-11-21","p":979},
    {"g":"down","i":8,"d":"2022-12-08","p":962},
    {"g":"down","i":9,"d":"2022-12-27","p":1013},
    {"g":"down","i":10,"d":"2023-01-16","p":1096},
    {"g":"down","i":11,"d":"2023-02-02","p":1230},
    {"g":"down","i":12,"d":"2023-02-18","p":1348},
    {"g":"down","i":13,"d":"2023-03-10","p":1448},
    {"g":"down","i":14,"d":"2023-03-29","p":1499},
    {"g":"down","i":15,"d":"2023-04-15","p":1482},
    {"g":"down","i":16,"d":"2023-05-02","p":1398},
    {"g":"down","i":17,"d":"2023-05-16","p":1314},
    {"g":"down","i":18,"d":"2023-05-26","p":1214},
    {"g":"down","i":19,"d":"2023-06-04","p":1147},
    {"g":"down","i":20,"d":"2023-06-21","p":1147},
    {"g":"down","i":21,"d":"2023-07-10","p":1180},
    {"g":"head","i":1,"d":"2023-06-12","p":1348},
    {"g":"head","i":2,"d":"2023-07-10","p":1180}]},
   "mark":{"type":"line","color":"#ff0000","strokeWidth":4.5,"strokeCap":"round","strokeJoin":"round","interpolate":"cardinal"},
   "encoding":{"x":{"field":"d","type":"temporal","scale":{"type":"utc","domain":[{"year":2017,"month":4,"date":28,"utc":true},{"year":2024,"month":9,"date":14,"utc":true}]},"axis":null},
    "y":{"field":"p","type":"quantitative","scale":{"domain":[-160,6340],"nice":false,"zero":false},"axis":{"title":null}},
    "detail":{"field":"g","type":"nominal"},"order":{"field":"i","type":"quantitative"}}},
  {"data":{"values":[{"d":"2024-09-28","d2":"2025-02-14","p":1808,"p2":1624}]},
   "mark":{"type":"rect","fill":"#1a5bc8"},
   "encoding":{"x":{"field":"d","type":"temporal","scale":{"type":"utc","domain":[{"year":2017,"month":4,"date":28,"utc":true},{"year":2024,"month":9,"date":14,"utc":true}]},"axis":null},"x2":{"field":"d2"},
    "y":{"field":"p","type":"quantitative","scale":{"domain":[-160,6340],"nice":false,"zero":false},"axis":{"title":null}},"y2":{"field":"p2"}}},
  {"data":{"values":[{"p":100},{"p":200},{"p":300},{"p":400},{"p":600},{"p":700},{"p":800},{"p":900},{"p":1100},{"p":1200},{"p":1300},{"p":1400},{"p":1600},{"p":1700},{"p":1800},{"p":1900},{"p":2100},{"p":2200},{"p":2300},{"p":2400},{"p":2600},{"p":2700},{"p":2800},{"p":2900},{"p":3100},{"p":3200},{"p":3300},{"p":3400},{"p":3600},{"p":3700},{"p":3800},{"p":3900},{"p":4100},{"p":4200},{"p":4300},{"p":4400},{"p":4600},{"p":4700},{"p":4800},{"p":4900},{"p":5100},{"p":5200},{"p":5300},{"p":5400},{"p":5600},{"p":5700},{"p":5800},{"p":5900},{"p":6100},{"p":6200},{"p":6300}]},
   "mark":{"type":"rule","color":"#666666","strokeWidth":1},
   "encoding":{"x":{"datum":{"year":2024,"month":9,"date":14,"utc":true},"type":"temporal","scale":{"type":"utc","domain":[{"year":2017,"month":4,"date":28,"utc":true},{"year":2024,"month":9,"date":14,"utc":true}]},"axis":null},
    "x2":{"datum":{"year":2024,"month":9,"date":19,"utc":true}},
    "y":{"field":"p","type":"quantitative","scale":{"domain":[-160,6340],"nice":false,"zero":false},"axis":{"title":null}}}},
  {"data":{"values":[{"d":"2017-05-12","p":6180},{"d":"2017-11-16","p":6180}]},
   "mark":{"type":"point","shape":"square","filled":true,"fill":"#f2f2f2","stroke":"#8a8a8a","strokeWidth":1,"size":28,"opacity":1},
   "encoding":{"x":{"field":"d","type":"temporal","scale":{"type":"utc","domain":[{"year":2017,"month":4,"date":28,"utc":true},{"year":2024,"month":9,"date":14,"utc":true}]},"axis":null},
    "y":{"field":"p","type":"quantitative","scale":{"domain":[-160,6340],"nice":false,"zero":false},"axis":{"title":null}}}},
  {"data":{"values":[
    {"d":"2017-06-05","p":6180,"t":"소프트캠프","k":"title"},
    {"d":"2017-12-05","p":6180,"t":"종가 단순 5","k":"ma5"},
    {"d":"2018-05-25","p":6180,"t":"10","k":"ma10"},
    {"d":"2018-07-12","p":6180,"t":"20","k":"ma20"},
    {"d":"2018-08-27","p":6180,"t":"60","k":"ma60"},
    {"d":"2018-10-14","p":6180,"t":"120","k":"ma120"},
    {"d":"2017-05-05","p":5134,"t":"5,030","k":"level"},
    {"d":"2017-05-05","p":2319,"t":"2,186","k":"level"},
    {"d":"2017-08-09","p":2587,"t":"(-4,50%)","k":"event"},
    {"d":"2017-09-24","p":2537,"t":"배당락(0,00%)","k":"event"},
    {"d":"2018-09-23","p":2587,"t":"배당락(0,00%)","k":"event"},
    {"d":"2019-08-16","p":2906,"t":"(2,74%)","k":"event"},
    {"d":"2019-09-26","p":2420,"t":"배당락(0,00%)","k":"event"},
    {"d":"2020-09-28","p":4045,"t":"배당락(0,00%)","k":"event"},
    {"d":"2021-10-06","p":3492,"t":"배당락(0,00%)","k":"event"},
    {"d":"2020-03-14","p":5084,"t":"최고 5,150 (12/18)","k":"high"},
    {"d":"2019-07-06","p":946,"t":"최저 937 (03/20)","k":"low"},
    {"d":"2019-10-17","p":946,"t":"(-81,80%)","k":"low"},
    {"d":"2021-04-28","p":3073,"t":"3,072,81","k":"level"}]},
   "mark":{"type":"text"},
   "encoding":{"x":{"field":"d","type":"temporal","scale":{"type":"utc","domain":[{"year":2017,"month":4,"date":28,"utc":true},{"year":2024,"month":9,"date":14,"utc":true}]},"axis":null},
    "y":{"field":"p","type":"quantitative","scale":{"domain":[-160,6340],"nice":false,"zero":false},"axis":{"title":null}},
    "text":{"field":"t"},
    "color":{"field":"k","type":"nominal","scale":{"domain":["title","ma5","ma10","ma20","ma60","ma120","level","event","high","low"],"range":["#111111","#d8209c","#1c1ca8","#e8a22c","#2a9a3a","#787878","#1a1ad0","#333333","#e81010","#1a1ad0"]},"legend":null}}},
  {"data":{"values":[
    {"d":"2024-09-18","p":6206,"t":"LC:90,79","k":"lc"},
    {"d":"2024-09-18","p":6005,"t":"HC:-66,21","k":"hc"},
    {"d":"2024-10-03","p":1733,"t":"1,740","k":"last"},
    {"d":"2024-10-01","p":1532,"t":"-0,85%","k":"hc"}]},
   "mark":{"type":"text","fontSize":12},
   "encoding":{"x":{"field":"d","type":"temporal","scale":{"type":"utc","domain":[{"year":2017,"month":4,"date":28,"utc":true},{"year":2024,"month":9,"date":14,"utc":true}]},"axis":null},
    "y":{"field":"p","type":"quantitative","scale":{"domain":[-160,6340],"nice":false,"zero":false},"axis":{"title":null}},
    "text":{"field":"t"},
    "color":{"field":"k","type":"nominal","scale":{"domain":["lc","hc","last"],"range":["#e81010","#2060c8","#ffffff"]},"legend":null}}}
 ]
},
{
 "width":1120,"height":153,
 "resolve":{"scale":{"color":"independent"}},
 "layer":[
  {"mark":{"type":"bar","size":1.6},
   "encoding":{"x":{"field":"d","type":"temporal","scale":{"type":"utc","domain":[{"year":2017,"month":4,"date":28,"utc":true},{"year":2024,"month":9,"date":14,"utc":true}]},
     "axis":{"orient":"bottom","title":null,"grid":false,"values":[1493942400000,1514764800000,1546300800000,1577836800000,1609459200000,1640995200000],
      "labelExpr":"utcFormat(datum.value, '%Y')","tickSize":20,"tickColor":"#9aa2ac","labelPadding":-17,"labelAlign":"left","labelBaseline":"top","labelOffset":3,"domain":false,"labelFlush":false,"labelOverlap":false,"labelFontSize":13,"labelColor":"#333333","labelFont":"Liberation Sans Narrow, Noto Sans CJK KR, sans-serif"}},
    "y":{"field":"v","type":"quantitative","scale":{"domain":[0,102000],"nice":false},
     "axis":{"orient":"right","title":null,"grid":false,"values":[20000,40000,60000,80000],"labelExpr":"format(datum.value, ',') + 'K'","labelOverlap":false,"labelFlush":false,"tickSize":4,"tickColor":"#555555","domainColor":"#777777","labelPadding":3,"labelFontSize":13,"labelColor":"#333333","labelFont":"Liberation Sans Narrow, Noto Sans CJK KR, sans-serif"}},
    "color":{"condition":{"test":"datum.c >= datum.o","value":"#f00000"},"value":"#0000f0"}}},
  {"mark":{"type":"line","color":"#8a8a8a","strokeWidth":1},
   "encoding":{"x":{"field":"d","type":"temporal","scale":{"type":"utc","domain":[{"year":2017,"month":4,"date":28,"utc":true},{"year":2024,"month":9,"date":14,"utc":true}]},"axis":{"title":null}},
    "y":{"field":"vma120","type":"quantitative","scale":{"domain":[0,102000],"nice":false},"axis":{"title":null}}}},
  {"mark":{"type":"line","color":"#1f9a2f","strokeWidth":1.5},
   "encoding":{"x":{"field":"d","type":"temporal","scale":{"type":"utc","domain":[{"year":2017,"month":4,"date":28,"utc":true},{"year":2024,"month":9,"date":14,"utc":true}]},"axis":{"title":null}},
    "y":{"field":"vma60","type":"quantitative","scale":{"domain":[0,102000],"nice":false},"axis":{"title":null}}}},
  {"mark":{"type":"line","color":"#f0aa30","strokeWidth":1.5},
   "encoding":{"x":{"field":"d","type":"temporal","scale":{"type":"utc","domain":[{"year":2017,"month":4,"date":28,"utc":true},{"year":2024,"month":9,"date":14,"utc":true}]},"axis":{"title":null}},
    "y":{"field":"vma20","type":"quantitative","scale":{"domain":[0,102000],"nice":false},"axis":{"title":null}}}},
  {"mark":{"type":"line","color":"#d020a0","strokeWidth":1},
   "encoding":{"x":{"field":"d","type":"temporal","scale":{"type":"utc","domain":[{"year":2017,"month":4,"date":28,"utc":true},{"year":2024,"month":9,"date":14,"utc":true}]},"axis":{"title":null}},
    "y":{"field":"a","type":"quantitative","scale":{"domain":[0,102000],"nice":false},"axis":{"title":null}}}},
  {"data":{"values":[{"d":"2024-09-28","d2":"2025-02-14","p":15533,"p2":8467}]},
   "mark":{"type":"rect","fill":"#1a5bc8"},
   "encoding":{"x":{"field":"d","type":"temporal","scale":{"type":"utc","domain":[{"year":2017,"month":4,"date":28,"utc":true},{"year":2024,"month":9,"date":14,"utc":true}]},"axis":{"title":null}},"x2":{"field":"d2"},
    "y":{"field":"p","type":"quantitative","scale":{"domain":[0,102000],"nice":false},"axis":{"title":null}},"y2":{"field":"p2"}}},
  {"data":{"values":[{"p":5000},{"p":10000},{"p":15000},{"p":25000},{"p":30000},{"p":35000},{"p":45000},{"p":50000},{"p":55000},{"p":65000},{"p":70000},{"p":75000},{"p":85000},{"p":90000},{"p":95000},{"p":100000}]},
   "mark":{"type":"rule","color":"#666666","strokeWidth":1},
   "encoding":{"x":{"datum":{"year":2024,"month":9,"date":14,"utc":true},"type":"temporal","scale":{"type":"utc","domain":[{"year":2017,"month":4,"date":28,"utc":true},{"year":2024,"month":9,"date":14,"utc":true}]},"axis":{"title":null}},
    "x2":{"datum":{"year":2024,"month":9,"date":19,"utc":true}},
    "y":{"field":"p","type":"quantitative","scale":{"domain":[0,102000],"nice":false},"axis":{"title":null}}}},
  {"data":{"values":[{"d":"2017-05-12","p":98667}]},
   "mark":{"type":"point","shape":"square","filled":true,"fill":"#f2f2f2","stroke":"#8a8a8a","strokeWidth":1,"size":28,"opacity":1},
   "encoding":{"x":{"field":"d","type":"temporal","scale":{"type":"utc","domain":[{"year":2017,"month":4,"date":28,"utc":true},{"year":2024,"month":9,"date":14,"utc":true}]},"axis":{"title":null}},
    "y":{"field":"p","type":"quantitative","scale":{"domain":[0,102000],"nice":false},"axis":{"title":null}}}},
  {"data":{"values":[
    {"d":"2017-06-03","p":98667,"t":"거래량","k":"vol"},
    {"d":"2017-09-24","p":98667,"t":"단순 5","k":"ma5"},
    {"d":"2018-01-01","p":98667,"t":"20","k":"ma20"},
    {"d":"2018-02-15","p":98667,"t":"60","k":"ma60"},
    {"d":"2018-04-07","p":98667,"t":"120","k":"ma120"},
    {"d":"2017-05-15","p":89700,"t":"61,478주(71,58%)","k":"title"}]},
   "mark":{"type":"text","fontSize":12},
   "encoding":{"x":{"field":"d","type":"temporal","scale":{"type":"utc","domain":[{"year":2017,"month":4,"date":28,"utc":true},{"year":2024,"month":9,"date":14,"utc":true}]},"axis":{"title":null}},
    "y":{"field":"p","type":"quantitative","scale":{"domain":[0,102000],"nice":false},"axis":{"title":null}},
    "text":{"field":"t"},
    "color":{"field":"k","type":"nominal","scale":{"domain":["title","ma5","ma20","ma60","ma120","vol"],"range":["#111111","#d8209c","#e8a22c","#2a9a3a","#787878","#20a8a8"]},"legend":null}}},
  {"data":{"values":[
    {"d":"2024-10-03","p":12300,"t":"61,478","k":"last"},
    {"d":"2024-10-01","p":4300,"t":"71,58%","k":"chg"},
    {"d":"2024-10-03","p":-6000,"t":"09/08","k":"date"}]},
   "mark":{"type":"text","fontSize":12},
   "encoding":{"x":{"field":"d","type":"temporal","scale":{"type":"utc","domain":[{"year":2017,"month":4,"date":28,"utc":true},{"year":2024,"month":9,"date":14,"utc":true}]},"axis":{"title":null}},
    "y":{"field":"p","type":"quantitative","scale":{"domain":[0,102000],"nice":false},"axis":{"title":null}},
    "text":{"field":"t"},
    "color":{"field":"k","type":"nominal","scale":{"domain":["last","chg","date"],"range":["#ffffff","#2060c8","#333333"]},"legend":null}}}
 ]
}
]
}
